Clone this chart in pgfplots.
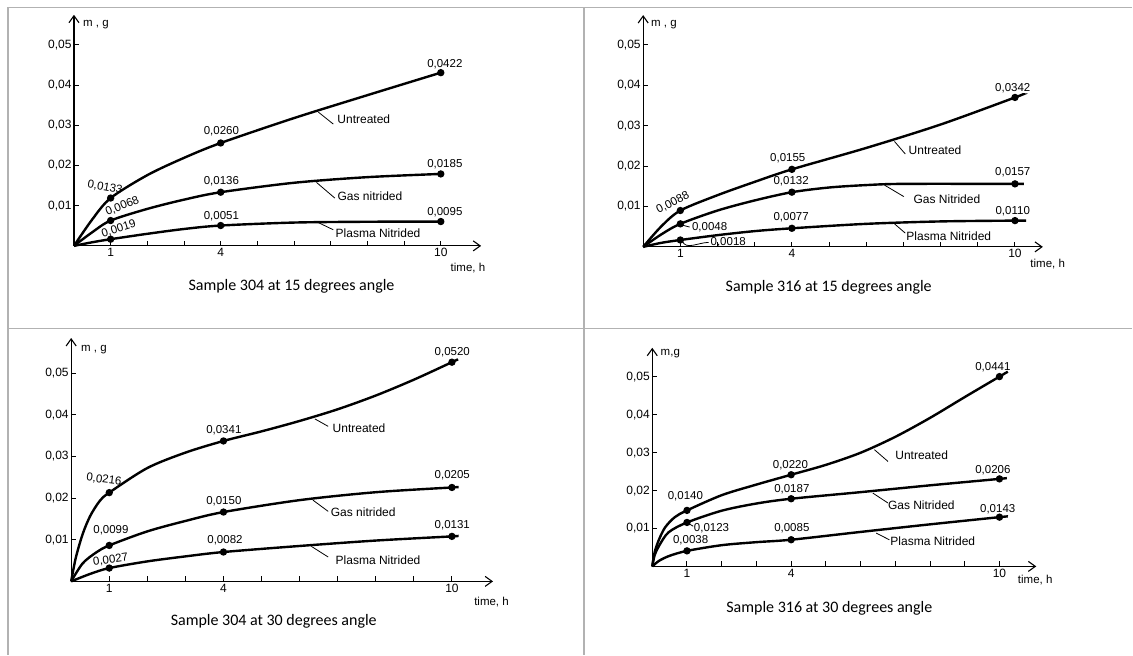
\documentclass[border=0pt]{standalone}
\usepackage{fontspec}
\setmainfont{Liberation Sans}
\newfontfamily\capfont{Carlito}
\usepackage{pgfplots}
\pgfplotsset{compat=1.18}
\usetikzlibrary{arrows.meta}

\newcommand\lab{\fontsize{11.5}{13}\selectfont}
\newcommand\clab{\fontsize{12}{14}\selectfont}
\newcommand\captxt{\capfont\fontsize{16}{18}\selectfont}

\tikzset{ldr/.style={line width=0.8pt, black}}
\pgfplotsset{
  panel/.style={
    scale only axis, clip=false, axis lines=left,
    xmin=0, ymin=0, scaled y ticks=false, scaled x ticks=false,
    axis line style={line width=1.1pt, -{Straight Barb[length=7pt,width=10pt,line width=1.1pt]}},
    xtick={1,...,10}, xticklabels={1,,,4,,,,,,10},
    ytick={0.01,0.02,0.03,0.04,0.05}, yticklabels={{0,01},{0,02},{0,03},{0,04},{0,05}},
    tick align=inside, major tick length=5pt, tick style={line width=1pt, black},
    tick label style={font=\fontsize{12}{13}\selectfont},
    xticklabel style={yshift=1pt}, yticklabel style={xshift=1pt},
    every axis plot/.append style={line width=2.4pt, black, smooth, tension=0.5, mark=*, mark size=2.4pt},
  },
}

\begin{document}
\begin{tikzpicture}
\fill[white] (0pt,0pt) rectangle (1133pt,655pt);
\draw[black!30, line width=1.2pt] (8pt,0pt) -- (8pt,647.3pt) -- (1133pt,647.3pt);
\draw[black!30, line width=1.2pt] (584.3pt,0pt) -- (584.3pt,647.3pt);
\draw[black!30, line width=1.2pt] (8pt,326pt) -- (1133pt,326pt);

% ---------------- Panel 1: Sample 304 at 15 degrees
\begin{axis}[panel, at={(74pt,409pt)}, anchor=south west, width=407.4pt, height=231.2pt, xmax=11.1, ymax=0.0575]
\addplot[mark indices={3,6,9}] coordinates {(0,0) (0.5,0.0066) (1,0.0119) (2,0.0176) (3,0.0219) (4,0.0256) (6,0.0318) (8,0.0375) (10,0.0431)};
\addplot[mark indices={3,6,9}] coordinates {(0,0) (0.5,0.0034) (1,0.0063) (2,0.0092) (3,0.0115) (4,0.01335) (6,0.0157) (8,0.0171) (10,0.0179)};
\addplot[mark indices={3,6,9}] coordinates {(0,0) (0.5,0.0009) (1,0.00166) (2,0.0030) (3,0.0042) (4,0.00506) (6,0.0058) (8,0.0060) (10,0.00605)};
\node[font=\lab, rotate=-10] at (axis cs:0.845,0.0146) {0,0133};
\node[font=\lab, rotate=22] at (axis cs:1.32,0.00985) {0,0068};
\node[font=\lab, rotate=17] at (axis cs:1.22,0.00425) {0,0019};
\node[font=\lab] at (axis cs:4.02,0.02843) {0,0260};
\node[font=\lab] at (axis cs:4.02,0.0160) {0,0136};
\node[font=\lab] at (axis cs:4.02,0.00746) {0,0051};
\node[font=\lab] at (axis cs:10.11,0.0452) {0,0422};
\node[font=\lab] at (axis cs:10.11,0.0204) {0,0185};
\node[font=\lab] at (axis cs:10.11,0.00846) {0,0095};
\draw[ldr] (axis cs:6.66,0.0333) -- (axis cs:7.07,0.0303);
\node[font=\clab] at (axis cs:7.90,0.0316) {Untreated};
\draw[ldr] (axis cs:6.61,0.0158) -- (axis cs:7.11,0.0119);
\node[font=\clab] at (axis cs:8.07,0.01244) {Gas nitrided};
\draw[ldr] (axis cs:6.66,0.0058) -- (axis cs:7.07,0.0040);
\node[font=\clab] at (axis cs:8.29,0.00316) {Plasma Nitrided};
\node[font=\lab] at (axis cs:0.60,0.0550) {m , g};
\node[font=\lab] at (axis cs:10.74,-0.00555) {time, h};
\node[font=\captxt] at (axis cs:5.93,-0.01012) {Sample 304 at 15 degrees angle};
\end{axis}

% ---------------- Panel 2: Sample 316 at 15 degrees
\begin{axis}[panel, at={(643.5pt,408pt)}, anchor=south west, width=399.9pt, height=231.9pt, xmax=10.75, ymax=0.0574]
\addplot[mark indices={3,6,9}] coordinates {(0,0) (0.49,0.0051) (1,0.0090) (2,0.0128) (3,0.0161) (4,0.0192) (6,0.0245) (8,0.0303) (10,0.0370) (10.21,0.0378)};
\addplot[mark indices={3,6,10}] coordinates {(0,0) (0.49,0.0031) (1,0.0057) (2,0.0090) (3,0.0115) (4,0.01354) (5,0.0147) (6,0.0153) (7,0.0156) (10,0.0156) (10.15,0.0156)};
\addplot[mark indices={3,6,9}] coordinates {(0,0) (0.49,0.0010) (1,0.0017) (2,0.0029) (3,0.0039) (4,0.0046) (6,0.0057) (8,0.0063) (10,0.0065) (10.3,0.0065)};
\node[font=\lab, rotate=27] at (axis cs:0.80,0.01090) {0,0088};
\draw[ldr] (axis cs:1.05,0.0054) -- (axis cs:1.25,0.0049);
\node[font=\lab, anchor=west] at (axis cs:1.22,0.00478) {0,0048};
\draw[ldr] (axis cs:1.05,0.0015) to[out=-70,in=180] (axis cs:1.76,0.0011);
\node[font=\lab, anchor=west] at (axis cs:1.72,0.00116) {0,0018};
\node[font=\lab] at (axis cs:3.89,0.02195) {0,0155};
\node[font=\lab] at (axis cs:3.98,0.01616) {0,0132};
\node[font=\lab] at (axis cs:3.98,0.00735) {0,0077};
\node[font=\lab] at (axis cs:9.94,0.0393) {0,0342};
\node[font=\lab] at (axis cs:9.94,0.01849) {0,0157};
\node[font=\lab] at (axis cs:9.94,0.00874) {0,0110};
\draw[ldr] (axis cs:6.76,0.0261) -- (axis cs:7.05,0.0230);
\node[font=\clab] at (axis cs:7.85,0.02384) {Untreated};
\draw[ldr] (axis cs:6.49,0.0153) -- (axis cs:7.01,0.01245);
\node[font=\clab] at (axis cs:8.17,0.01188) {Gas Nitrided};
\draw[ldr] (axis cs:6.76,0.0057) -- (axis cs:7.05,0.0034);
\node[font=\clab] at (axis cs:8.22,0.00272) {Plasma Nitrided};
\node[font=\lab] at (axis cs:0.56,0.05495) {m , g};
\node[font=\lab] at (axis cs:10.88,-0.00421) {time, h};
\node[font=\captxt] at (axis cs:4.99,-0.00998) {Sample 316 at 15 degrees angle};
\end{axis}

% ---------------- Panel 3: Sample 304 at 30 degrees
\begin{axis}[panel, at={(71.2pt,73.3pt)}, anchor=south west, width=422.1pt, height=243.5pt, xmax=11.08, ymax=0.0584]
\addplot[mark indices={6,9,15}] coordinates {(0,0) (0.12,0.0056) (0.3,0.0113) (0.5,0.0157) (0.75,0.0193) (1,0.0213) (2,0.0272) (3,0.0309) (4,0.0337) (5,0.0360) (6,0.0385) (7,0.0413) (8,0.0446) (9,0.0484) (10,0.0526) (10.16,0.0533)};
\addplot[mark indices={4,7,10}] coordinates {(0,0) (0.3,0.0043) (0.65,0.0069) (1,0.00863) (2,0.0120) (3,0.0145) (4,0.01664) (6,0.0195) (8,0.0214) (10,0.02254) (10.13,0.0226)};
\addplot[mark indices={3,6,9}] coordinates {(0,0) (0.5,0.0018) (1,0.0032) (2,0.0048) (3,0.0060) (4,0.00705) (6,0.0085) (8,0.0098) (10,0.0108) (10.13,0.0109)};
\node[font=\lab, rotate=-7] at (axis cs:0.861,0.02439) {0,0216};
\node[font=\lab] at (axis cs:1.045,0.01216) {0,0099};
\node[font=\lab, rotate=8] at (axis cs:1.037,0.0052) {0,0027};
\node[font=\lab] at (axis cs:4.01,0.03638) {0,0341};
\node[font=\lab] at (axis cs:4.01,0.01919) {0,0150};
\node[font=\lab] at (axis cs:4.04,0.00976) {0,0082};
\node[font=\lab] at (axis cs:10.01,0.0550) {0,0520};
\node[font=\lab] at (axis cs:10.01,0.02542) {0,0205};
\node[font=\lab] at (axis cs:10.01,0.01343) {0,0131};
\draw[ldr] (axis cs:6.40,0.0390) -- (axis cs:6.75,0.0372);
\node[font=\clab] at (axis cs:7.56,0.0367) {Untreated};
\draw[ldr] (axis cs:6.35,0.0195) -- (axis cs:6.75,0.0168);
\node[font=\clab] at (axis cs:7.67,0.01655) {Gas nitrided};
\draw[ldr] (axis cs:6.31,0.0084) -- (axis cs:6.75,0.00585);
\node[font=\clab] at (axis cs:8.06,0.00504) {Plasma Nitrided};
\node[font=\lab] at (axis cs:0.60,0.05556) {m , g};
\node[font=\lab] at (axis cs:11.04,-0.00504) {time, h};
\node[font=\captxt] at (axis cs:5.32,-0.00959) {Sample 304 at 30 degrees angle};
\end{axis}

% ---------------- Panel 4: Sample 316 at 30 degrees
\begin{axis}[panel, at={(652.6pt,88.3pt)}, anchor=south west, width=384.2pt, height=218.7pt, xmax=11.06, ymax=0.0577]
\addplot[mark indices={6,9,15}] coordinates {(0,0) (0.07,0.0038) (0.19,0.0070) (0.37,0.0103) (0.65,0.0130) (1,0.01478) (2,0.0188) (3,0.0216) (4,0.0242) (5,0.0268) (6,0.0300) (7,0.0342) (8,0.0392) (9,0.0447) (10,0.0501) (10.24,0.0514)};
\addplot[mark indices={5,8,11}] coordinates {(0,0) (0.07,0.0030) (0.2,0.0055) (0.47,0.0090) (1,0.0116) (2,0.0147) (3,0.0166) (4,0.01786) (6,0.0196) (8,0.0214) (10,0.0231) (10.19,0.0233)};
\addplot[mark indices={4,7,10}] coordinates {(0,0) (0.2,0.0015) (0.5,0.0028) (1,0.00410) (2,0.0056) (3,0.0064) (4,0.00704) (6,0.0091) (8,0.0111) (10,0.0130) (10.24,0.0132)};
\node[font=\lab] at (axis cs:0.953,0.01847) {0,0140};
\draw[ldr] (axis cs:1.05,0.0113) -- (axis cs:1.18,0.0106);
\node[font=\lab, anchor=west] at (axis cs:1.10,0.01013) {0,0123};
\node[font=\lab] at (axis cs:1.105,0.00678) {0,0038};
\node[font=\lab] at (axis cs:3.98,0.02683) {0,0220};
\node[font=\lab] at (axis cs:4.02,0.02042) {0,0187};
\node[font=\lab] at (axis cs:4.02,0.01013) {0,0085};
\node[font=\lab] at (axis cs:9.81,0.0526) {0,0441};
\node[font=\lab] at (axis cs:9.81,0.02533) {0,0206};
\node[font=\lab] at (axis cs:9.95,0.01515) {0,0143};
\draw[ldr] (axis cs:6.40,0.0308) -- (axis cs:6.79,0.0277);
\node[font=\clab] at (axis cs:7.76,0.0294) {Untreated};
\draw[ldr] (axis cs:6.35,0.01937) -- (axis cs:6.79,0.01673);
\node[font=\clab] at (axis cs:7.75,0.0161) {Gas Nitrided};
\draw[ldr] (axis cs:6.45,0.0088) -- (axis cs:6.83,0.00702);
\node[font=\clab] at (axis cs:8.08,0.0066) {Plasma Nitrided};
\node[font=\lab] at (axis cs:0.52,0.0563) {m,g};
\node[font=\lab] at (axis cs:11.03,-0.00351) {time, h};
\node[font=\captxt] at (axis cs:5.10,-0.01098) {Sample 316 at 30 degrees angle};
\end{axis}
\end{tikzpicture}
\end{document}
